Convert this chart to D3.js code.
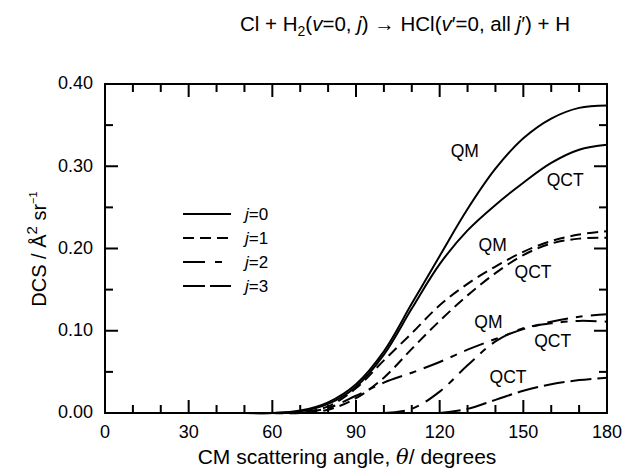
<!DOCTYPE html>
<html>
<head>
<meta charset="utf-8">
<script src="https://cdn.jsdelivr.net/npm/d3@7"></script>
<style>
    body { margin: 0; background: #fff; }
    text { font-family: "Liberation Sans", Arial, Helvetica, sans-serif; fill: #000; }
</style>
</head>
<body>
<div id="chart"></div>
<script>
"use strict";

// angles (degrees) the curves were read at
var angles = [50, 60, 70, 80, 90, 100, 110, 120, 130, 140, 150, 160, 170, 180];

// DCS values (A^2 sr^-1), null = not drawn
var qmJ0  = [0, 0.000, 0.003, 0.013, 0.035, 0.075, 0.133, 0.191, 0.248, 0.297, 0.334, 0.358, 0.371, 0.374];
var qctJ0 = [0, 0.000, 0.002, 0.011, 0.032, 0.071, 0.127, 0.181, 0.222, 0.253, 0.280, 0.304, 0.320, 0.326];
var qmJ1  = [null, 0, 0.001, 0.008, 0.030, 0.064, 0.097, 0.131, 0.157, 0.178, 0.196, 0.209, 0.217, 0.221];
var qctJ1 = [null, 0, 0.000, 0.004, 0.018, 0.043, 0.078, 0.112, 0.143, 0.170, 0.192, 0.206, 0.212, 0.213];
var qmJ2  = [null, null, 0, 0.006, 0.021, 0.037, 0.049, 0.062, 0.077, 0.090, 0.102, 0.111, 0.117, 0.120];
var qctJ2 = [null, null, null, null, null, 0, 0.005, 0.026, 0.058, 0.087, 0.103, 0.109, 0.112, 0.111];
var qctJ3 = [null, null, null, null, null, null, null, 0, 0.005, 0.016, 0.027, 0.035, 0.040, 0.043];

var seriesNames = ["QM j=0", "QCT j=0", "QM j=1", "QCT j=1", "QM j=2", "QCT j=2", "QCT j=3"];
var seriesValues = [qmJ0, qctJ0, qmJ1, qctJ1, qmJ2, qctJ2, qctJ3];
var seriesJ = [0, 0, 1, 1, 2, 2, 3];

// legend rows
var legendLabels = ["0", "1", "2", "3"];

// curve labels, placed in data units [angle, DCS]
var noteText = ["QM", "QCT", "QM", "QCT", "QM", "QCT", "QCT"];
var noteAngle = [129, 165, 139, 153.5, 137.5, 160.5, 144.5];
var noteValue = [0.319, 0.283, 0.205, 0.172, 0.111, 0.088, 0.044];

var xTicks = [0, 30, 60, 90, 120, 150, 180];
var yTicks = [0, 0.1, 0.2, 0.3, 0.4];
var xMinor = [10, 20, 40, 50, 70, 80, 100, 110, 130, 140, 160, 170];
var yMinor = [0.05, 0.15, 0.25, 0.35];

var width = 626, height = 470;
var margin = {left: 105, right: 19, top: 84, bottom: 57};

// one dash pattern per j
var dashes = ["none", "11,6", "21,8,7,8", "21,6"];
var legendDashes = ["none", "11,6", "22,10,7,9", "22,5"];

var svg = d3.select("#chart").append("svg")
    .attr("width", width)
    .attr("height", height);

var x = d3.scaleLinear().domain([0, 180]).range([margin.left, width - margin.right]);
var y = d3.scaleLinear().domain([0, 0.4]).range([height - margin.bottom, margin.top]);

var x0 = x(0), x1 = x(180), y0 = y(0), y1 = y(0.4);

//frame
svg.append("rect")
    .attr("x", x0)
    .attr("y", y1)
    .attr("width", x1 - x0)
    .attr("height", y0 - y1)
    .attr("fill", "none")
    .attr("stroke", "#000")
    .attr("stroke-width", 2);

//inward ticks as small filled bars (major 13px, minor 8px), bottom+top and left+right
var tickW = 2;
var xTickData = xTicks.map(function(d) { return [d, 13]; })
    .concat(xMinor.map(function(d) { return [d, 8]; }));
var yTickData = yTicks.map(function(d) { return [d, 13]; })
    .concat(yMinor.map(function(d) { return [d, 8]; }));

var tickG = svg.append("g").attr("fill", "#000");

tickG.selectAll("rect.xb")
    .data(xTickData)
    .enter()
    .append("rect")
    .attr("class", "xb")
    .attr("x", function(d) { return x(d[0]) - tickW / 2; })
    .attr("y", function(d) { return y0 - d[1]; })
    .attr("width", tickW)
    .attr("height", function(d) { return d[1]; })
    .attr("fill", "#000");

tickG.selectAll("rect.xt")
    .data(xTickData)
    .enter()
    .append("rect")
    .attr("class", "xt")
    .attr("x", function(d) { return x(d[0]) - tickW / 2; })
    .attr("y", y1)
    .attr("width", tickW)
    .attr("height", function(d) { return d[1]; })
    .attr("fill", "#000");

tickG.selectAll("rect.yl")
    .data(yTickData)
    .enter()
    .append("rect")
    .attr("class", "yl")
    .attr("x", x0)
    .attr("y", function(d) { return y(d[0]) - tickW / 2; })
    .attr("width", function(d) { return d[1]; })
    .attr("height", tickW)
    .attr("fill", "#000");

tickG.selectAll("rect.yr")
    .data(yTickData)
    .enter()
    .append("rect")
    .attr("class", "yr")
    .attr("x", function(d) { return x1 - d[1]; })
    .attr("y", function(d) { return y(d[0]) - tickW / 2; })
    .attr("width", function(d) { return d[1]; })
    .attr("height", tickW)
    .attr("fill", "#000");

//tick labels
svg.append("g").selectAll("text")
    .data(xTicks)
    .enter()
    .append("text")
    .attr("x", function(d) { return x(d); })
    .attr("y", y0 + 25)
    .attr("text-anchor", "middle")
    .attr("font-size", 18)
    .text(function(d) { return d; });

svg.append("g").selectAll("text")
    .data(yTicks)
    .enter()
    .append("text")
    .attr("x", x0 - 12)
    .attr("y", function(d) { return y(d); })
    .attr("dy", "0.3em")
    .attr("text-anchor", "end")
    .attr("font-size", 18)
    .text(function(d) { return d3.format(".2f")(d); });

//the curves
var line = d3.line()
    .defined(function(d) { return d[1] !== null; })
    .x(function(d) { return x(d[0]); })
    .y(function(d) { return y(d[1]); })
    .curve(d3.curveCatmullRom.alpha(0.5));

svg.append("g").selectAll("path")
    .data(seriesValues)
    .enter()
    .append("path")
    .attr("d", function(vals) {
        return line(angles.map(function(a, i) { return [a, vals[i]]; }));
    })
    .attr("fill", "none")
    .attr("stroke", "#000")
    .attr("stroke-width", 2)
    .attr("stroke-dasharray", function(d, i) { return dashes[seriesJ[i]]; })
    .append("title")
    .text(function(d, i) { return seriesNames[i]; });

//QM / QCT labels next to the curves
svg.append("g").selectAll("text")
    .data(noteText)
    .enter()
    .append("text")
    .attr("x", function(d, i) { return x(noteAngle[i]); })
    .attr("y", function(d, i) { return y(noteValue[i]); })
    .attr("text-anchor", "middle")
    .attr("dy", "0.35em")
    .attr("font-size", 17.5)
    .text(function(d) { return d; });

//legend
var legend = svg.append("g")
    .attr("transform", "translate(183,214)")
    .selectAll("g")
    .data(legendLabels)
    .enter()
    .append("g")
    .attr("transform", function(d, i) { return "translate(0," + (i * 24) + ")"; });

legend.append("line")
    .attr("x1", 0)
    .attr("x2", 48)
    .attr("stroke", "#000")
    .attr("stroke-width", 2)
    .attr("stroke-dasharray", function(d, i) { return legendDashes[i]; });

var legendText = legend.append("text")
    .attr("x", 62)
    .attr("dy", "0.35em")
    .attr("font-size", 17);
legendText.append("tspan").attr("font-style", "italic").text("j");
legendText.append("tspan").text(function(d) { return "=" + d; });

//title
var title = svg.append("text")
    .attr("x", 405)
    .attr("y", 31)
    .attr("text-anchor", "middle")
    .attr("font-size", 20.5);
title.append("tspan").text("Cl + H");
title.append("tspan").attr("font-size", 14).attr("dy", 5).text("2");
title.append("tspan").attr("dy", -5).text("(");
title.append("tspan").attr("font-style", "italic").text("v");
title.append("tspan").text("=0, ");
title.append("tspan").attr("font-style", "italic").text("j");
title.append("tspan").text(") \u2192 HCl(");
title.append("tspan").attr("font-style", "italic").text("v");
title.append("tspan").text("\u2032=0, all ");
title.append("tspan").attr("font-style", "italic").text("j");
title.append("tspan").text("\u2032) + H");

//x axis title
var xTitle = svg.append("text")
    .attr("x", 347)
    .attr("y", 464)
    .attr("text-anchor", "middle")
    .attr("font-size", 21);
xTitle.append("tspan").text("CM scattering angle, ");
xTitle.append("tspan").attr("font-style", "italic").attr("font-family", "DejaVu Serif, serif").text("\u03b8");
xTitle.append("tspan").text("/ degrees");

//y axis title
var yTitle = svg.append("text")
    .attr("transform", "translate(46,249) rotate(-90)")
    .attr("text-anchor", "middle")
    .attr("font-size", 20);
yTitle.append("tspan").text("DCS / \u00c5");
yTitle.append("tspan").attr("font-size", 15).attr("dy", -9).text("2");
yTitle.append("tspan").attr("dy", 9).text(" sr");
yTitle.append("tspan").attr("font-size", 11).attr("dy", -9).text("\u22121");
</script>
</body>
</html>
